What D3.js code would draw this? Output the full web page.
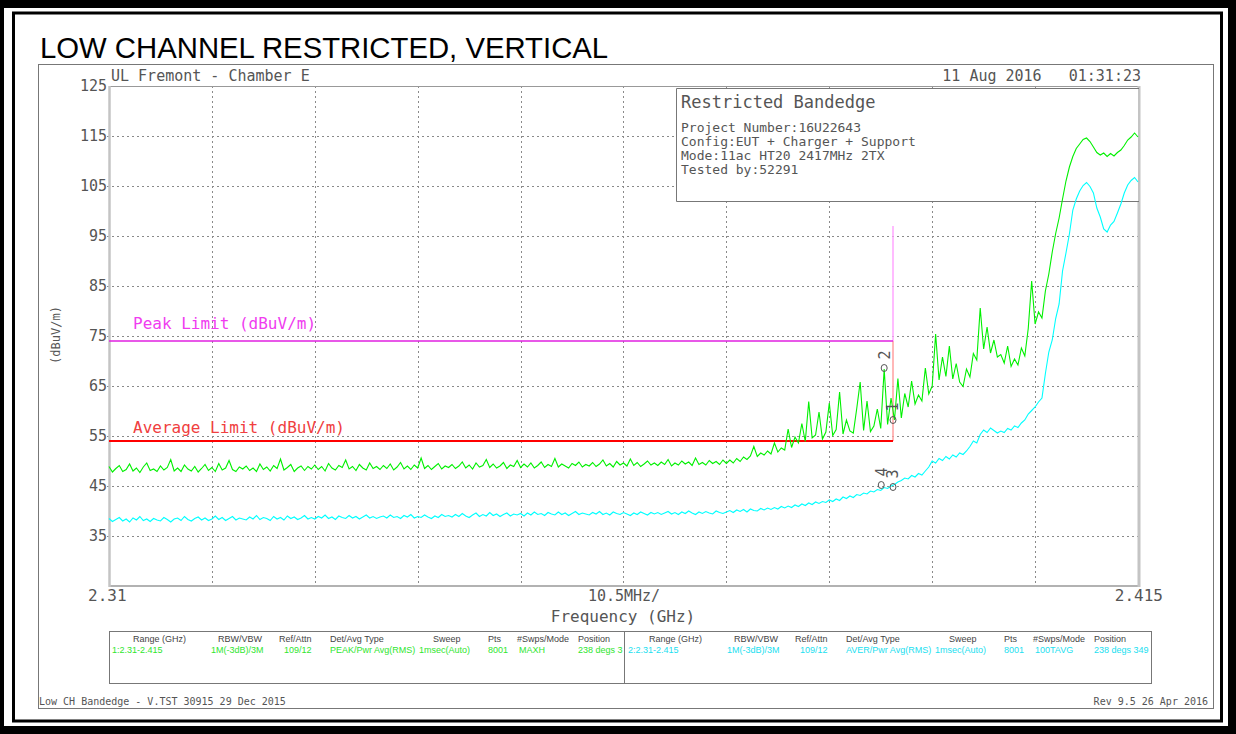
<!DOCTYPE html>
<html lang="en">
<head>
  <meta charset="UTF-8">
  <title>Low Channel Restricted, Vertical</title>
  <script src="https://d3js.org/d3.v7.min.js"></script>
  <style>
    body { margin: 0; background: white; }
    svg { display: block; }
    .mono { font-family: "DejaVu Sans Mono", monospace; fill: #555; }
    .small { font-family: "Liberation Sans", Arial, sans-serif; font-size: 9px; }
    .grid line { stroke: #8a8a8a; stroke-width: 1; stroke-dasharray: 2,3; }
  </style>
</head>
<body>
  <svg width="1236" height="734"></svg>

  <script>
    // sweep: 2.31 - 2.415 GHz, 301 read-off points per trace
    const sweepStart = 2.31;
    const sweepStop = 2.415;
    const yTicks = [35, 45, 55, 65, 75, 85, 95, 105, 115, 125];

    // trace 1, peak (MAXH), dBuV/m
    const peakTrace = [
      48.9, 47.8, 48.5, 49.1, 47.9, 48.3, 49.4, 48.0, 48.6, 47.7, 48.8, 49.6, 48.1, 48.4, 47.9, 49.0, 48.2, 48.7, 50.3, 48.0,
      48.6, 47.9, 49.2, 48.4, 48.0, 48.9, 47.8, 48.5, 49.3, 48.1, 48.7, 47.9, 49.5, 48.2, 48.6, 50.1, 48.3, 47.9, 48.8, 48.4,
      49.0, 48.1, 48.6, 47.9, 49.4, 48.3, 48.8, 48.0, 49.1, 48.5, 50.4, 48.2, 48.7, 49.3, 47.9, 48.6, 49.0, 48.1, 48.9, 48.4,
      49.2, 48.3, 48.9, 48.0, 49.5, 48.6, 48.2, 49.1, 48.7, 50.2, 48.4, 48.9, 48.1, 49.3, 48.6, 48.2, 49.6, 48.5, 48.9, 48.3,
      49.1, 48.5, 49.4, 48.2, 48.8, 49.7, 48.4, 49.0, 48.3, 49.2, 48.6, 50.6, 48.5, 49.1, 48.3, 48.9, 49.5, 48.4, 49.0, 48.7,
      49.3, 48.5, 49.0, 49.8, 48.6, 49.2, 48.4, 49.6, 48.8, 49.1, 50.3, 48.7, 49.4, 48.6, 49.0, 49.7, 48.5, 49.2, 48.9, 50.1,
      48.7, 49.4, 48.8, 49.6, 48.6, 49.1, 49.8, 48.7, 49.3, 48.9, 50.5, 48.8, 49.4, 49.0, 48.6, 49.5, 49.1, 49.8, 48.8, 49.3,
      49.0, 49.7, 48.9, 49.4, 50.2, 49.0, 49.5, 48.8, 49.9, 49.2, 49.6, 49.0, 50.4, 49.1, 49.7, 48.9, 49.4, 50.0, 49.2, 49.6,
      49.1, 49.8, 49.3, 50.3, 49.0, 49.6, 49.2, 50.0, 49.4, 49.8, 49.1, 50.6, 49.3, 49.7, 49.2, 50.1, 49.5, 49.9, 49.3, 50.2,
      49.5, 50.2, 49.6, 50.5, 49.9, 50.8, 50.3, 51.0, 52.9, 50.9, 51.6, 51.2, 52.0, 51.4, 53.6, 51.8, 52.6, 52.2, 56.4, 52.7,
      54.8, 53.6, 57.5, 53.9, 61.9, 54.6, 55.2, 59.8, 54.4, 55.8, 61.6, 55.1, 56.3, 63.8, 55.4, 58.2, 56.0, 55.6, 60.5, 65.8,
      56.1, 62.0, 55.9, 57.0, 60.4, 56.5, 68.4, 57.3, 62.6, 58.2, 66.5, 58.6, 63.5, 60.8, 66.0, 61.4, 63.2, 62.0, 68.6, 63.4,
      65.0, 75.4, 66.2, 70.8, 66.9, 73.0, 66.4, 69.5, 65.8, 64.9, 68.4, 66.8, 71.5, 70.2, 80.6, 72.4, 76.8, 71.6, 74.2, 70.8,
      71.3, 69.6, 73.0, 68.9, 70.4, 69.2, 72.6, 71.0, 76.5, 86.0, 77.4, 79.8, 78.6, 84.0, 87.4, 91.8, 95.5, 98.6, 102.4, 106.0,
      108.8, 110.9, 112.5, 113.4, 114.3, 114.6, 113.9, 112.8, 111.7, 111.2, 111.6, 110.9, 111.5, 111.0, 111.7, 112.2, 113.1, 114.2, 114.8, 115.6,
      114.8
    ];

    // trace 2, average (100TAVG), dBuV/m
    const avgTrace = [
      38.5, 37.9, 38.3, 38.7, 38.0, 38.4, 37.8, 38.6, 38.2, 38.9, 38.1, 38.4, 37.9, 38.5, 38.2, 38.0, 38.7, 38.3, 37.8, 38.4,
      38.6, 38.1, 38.9, 38.3, 38.0, 38.5, 38.8, 38.2, 38.6, 38.1, 38.4, 39.0, 38.3, 38.7, 38.1, 38.5, 38.9, 38.2, 38.6, 38.4,
      38.2, 38.8, 38.4, 39.1, 38.3, 38.7, 38.5, 38.1, 38.9, 38.4, 38.7, 38.2, 39.0, 38.5, 38.8, 38.3, 38.6, 39.1, 38.4, 38.7,
      38.4, 38.9, 38.6, 39.2, 38.5, 38.8, 38.3, 39.0, 38.7, 38.5, 39.1, 38.6, 38.9, 38.4, 38.8, 39.2, 38.6, 38.9, 38.5, 38.8,
      39.0, 38.6, 39.2, 38.7, 38.9, 38.5, 39.1, 38.8, 39.3, 38.6, 38.9, 38.7, 39.2, 38.8, 38.5, 39.0, 38.7, 39.3, 38.9, 39.1,
      38.8, 39.3, 38.9, 39.5, 39.0, 38.7, 39.2, 39.6, 38.9, 39.3, 39.0, 39.7, 39.1, 39.4, 38.9, 39.3, 39.6, 39.0, 39.4, 39.2,
      39.5, 39.0, 39.6, 39.2, 39.8, 39.3, 39.5, 39.1, 39.7, 39.4, 39.2, 39.8, 39.3, 39.6, 39.1, 39.5, 39.9, 39.3, 39.6, 39.4,
      39.2, 39.7, 39.4, 39.9, 39.3, 39.6, 39.2, 39.8, 39.5, 39.3, 39.7, 39.4, 39.1, 39.6, 39.3, 39.8, 39.5, 39.2, 39.7, 39.4,
      39.7, 39.3, 39.6, 39.9, 39.4, 39.7, 39.3, 39.8, 39.5, 40.0, 39.6, 39.3, 39.8, 39.5, 39.9, 39.6, 39.4, 40.0, 39.7, 39.5,
      39.8, 40.1, 39.7, 40.2, 39.9, 40.3, 39.8, 40.4, 40.1, 40.0, 40.5, 40.2, 40.6, 40.3, 40.7, 40.4, 40.9, 40.6, 41.0, 40.7,
      41.2, 40.9, 41.4, 41.1, 41.6, 41.3, 41.8, 41.5, 41.9, 41.7, 42.2, 41.9, 42.4, 42.1, 42.8, 42.5, 43.0, 42.7, 43.3, 43.1,
      43.6, 43.4, 44.0, 43.8, 44.3, 44.1, 44.7, 44.5, 45.0, 45.3, 45.8, 46.1, 46.6, 46.4, 47.1, 46.8, 47.5, 47.2, 48.0, 48.8,
      50.0, 49.6, 50.5, 50.1, 50.9, 50.4, 51.2, 50.8, 51.6, 51.3, 52.0, 52.9, 54.0, 53.6, 55.3, 56.2, 55.7, 56.6, 56.1, 55.6,
      56.0, 55.7, 56.5, 56.2, 57.0, 56.7, 57.6, 58.2, 59.4, 60.1, 60.8, 61.8, 62.6, 67.5, 71.8, 74.2, 78.5, 81.4, 88.0, 91.6,
      95.4, 100.2, 102.4, 104.0, 105.1, 105.7, 104.9, 103.6, 100.6, 98.8, 96.4, 95.8, 97.2, 97.9, 99.6, 101.4, 103.6, 105.2, 106.1, 106.7,
      105.8
    ];

    // limit lines (step at the 2.39 GHz band edge)
    const peakLimitFreq = [2.31, 2.39, 2.39];
    const peakLimitLevel = [74, 74, 97];
    const avgLimitFreq = [2.31, 2.39, 2.39];
    const avgLimitLevel = [54, 54, 74];

    // markers
    const markerIds = ["1", "2", "3", "4"];
    const markerFreq = [2.3900, 2.3891, 2.3900, 2.3888];
    const markerLevel = [58.2, 68.6, 44.8, 45.2];

    // bottom settings table
    const tableHeaders = ["Range (GHz)", "RBW/VBW", "Ref/Attn", "Det/Avg Type", "Sweep", "Pts", "#Swps/Mode", "Position"];
    const trace1Settings = ["1:2.31-2.415", "1M(-3dB)/3M", "109/12", "PEAK/Pwr Avg(RMS)", "1msec(Auto)", "8001", "MAXH", "238 degs 3"];
    const trace2Settings = ["2:2.31-2.415", "1M(-3dB)/3M", "109/12", "AVER/Pwr Avg(RMS)", "1msec(Auto)", "8001", "100TAVG", "238 degs 349"];

    const infoLines = ["Project Number:16U22643", "Config:EUT + Charger + Support", "Mode:11ac HT20 2417MHz 2TX", "Tested by:52291"];

    const svg = d3.select("svg");

    // outer black frame
    svg.append("rect").attr("width", 1236).attr("height", 734).attr("fill", "black");
    svg.append("rect").attr("x", 4).attr("y", 8).attr("width", 1224).attr("height", 718).attr("fill", "white");
    svg.append("rect").attr("x", 13.5).attr("y", 13).attr("width", 1208).attr("height", 708)
      .attr("fill", "none").attr("stroke", "black").attr("stroke-width", 3);

    svg.append("text")
      .attr("x", 40).attr("y", 58)
      .style("font-family", "'Liberation Sans', Arial, sans-serif")
      .style("font-size", "29.3px")
      .text("LOW CHANNEL RESTRICTED, VERTICAL");

    // analyzer plot frame
    svg.append("rect").attr("x", 38.5).attr("y", 64.5).attr("width", 1175).attr("height", 644)
      .attr("fill", "none").attr("stroke", "#777").attr("stroke-width", 1);

    const x = d3.scaleLinear().domain([sweepStart, sweepStop]).range([109, 1138]);
    const y = d3.scaleLinear().domain([25, 125]).range([586, 86]);

    const grid = svg.append("g").attr("class", "grid");
    grid.selectAll(".h").data(yTicks.filter(d => d < 125)).join("line")
      .attr("x1", 107).attr("x2", 1138)
      .attr("y1", d => y(d) + 0.5).attr("y2", d => y(d) + 0.5);
    const xTicks = d3.range(1, 10).map(i => sweepStart + i * (sweepStop - sweepStart) / 10);
    grid.selectAll(".v").data(xTicks).join("line")
      .attr("x1", d => Math.round(x(d)) + 0.5).attr("x2", d => Math.round(x(d)) + 0.5)
      .attr("y1", 86).attr("y2", 586);

    // plot borders
    svg.append("line").attr("x1", 109).attr("x2", 1139).attr("y1", 86.5).attr("y2", 86.5).attr("stroke", "#999");
    svg.append("line").attr("x1", 109).attr("x2", 1139).attr("y1", 586).attr("y2", 586).attr("stroke", "#999").attr("stroke-width", 1.5);
    svg.append("line").attr("x1", 109.5).attr("x2", 109.5).attr("y1", 86).attr("y2", 587).attr("stroke", "#c4c4c4").attr("stroke-width", 2.5);
    svg.append("line").attr("x1", 1139).attr("x2", 1139).attr("y1", 86).attr("y2", 587).attr("stroke", "#c4c4c4").attr("stroke-width", 3);

    // y tick labels
    svg.append("g").selectAll("text").data(yTicks).join("text")
      .attr("class", "mono")
      .attr("x", 107).attr("y", d => y(d))
      .attr("dy", "0.36em")
      .attr("text-anchor", "end")
      .style("font-size", "15px")
      .text(d => d);

    svg.append("text").attr("class", "mono")
      .attr("transform", "translate(60,335) rotate(-90)")
      .attr("text-anchor", "middle")
      .style("font-size", "12px")
      .text("(dBuV/m)");

    // x labels
    svg.append("text").attr("class", "mono").attr("x", 88).attr("y", 601)
      .style("font-size", "16px").text(sweepStart.toFixed(2));
    svg.append("text").attr("class", "mono").attr("x", 1163).attr("y", 601)
      .attr("text-anchor", "end").style("font-size", "16px").text(sweepStop.toFixed(3));
    svg.append("text").attr("class", "mono").attr("x", 624).attr("y", 601)
      .attr("text-anchor", "middle").style("font-size", "15px")
      .text(((sweepStop - sweepStart) * 100).toFixed(1) + "MHz/");
    svg.append("text").attr("class", "mono").attr("x", 623).attr("y", 622)
      .attr("text-anchor", "middle").style("font-size", "16px").text("Frequency (GHz)");

    // header
    svg.append("text").attr("class", "mono").attr("x", 111).attr("y", 81)
      .style("font-size", "15px").text("UL Fremont - Chamber E");
    svg.append("text").attr("class", "mono").attr("x", 1141).attr("y", 81)
      .attr("text-anchor", "end").style("font-size", "15px")
      .style("white-space", "pre").attr("xml:space", "preserve")
      .text("11 Aug 2016   01:31:23");

    // limits
    const limitLine = d3.line().x(d => x(d[0])).y(d => y(d[1]));
    const peakLim = d3.zip(peakLimitFreq, peakLimitLevel);
    const avgLim = d3.zip(avgLimitFreq, avgLimitLevel);
    svg.append("path").attr("d", limitLine(peakLim.slice(1)))
      .attr("fill", "none").attr("stroke", "#ffa6ff").attr("stroke-width", 1.5);
    svg.append("path").attr("d", limitLine(avgLim.slice(1)))
      .attr("fill", "none").attr("stroke", "#ff9f9f").attr("stroke-width", 1.5);
    svg.append("path").attr("d", limitLine(peakLim.slice(0, 2)))
      .attr("fill", "none").attr("stroke", "#e020e0").attr("stroke-width", 1.6);
    svg.append("path").attr("d", limitLine(avgLim.slice(0, 2)))
      .attr("fill", "none").attr("stroke", "#ff0000").attr("stroke-width", 2.2);

    svg.append("text").attr("x", 133).attr("y", 329)
      .style("font-family", "'DejaVu Sans Mono', monospace").style("font-size", "16px")
      .attr("fill", "#f03cf0").text("Peak Limit (dBuV/m)");
    svg.append("text").attr("x", 133).attr("y", 433)
      .style("font-family", "'DejaVu Sans Mono', monospace").style("font-size", "16px")
      .attr("fill", "#f04040").text("Average Limit (dBuV/m)");

    // info box (hides the grid, traces are drawn over it)
    svg.append("rect").attr("x", 677).attr("y", 89).attr("width", 461).attr("height", 112).attr("fill", "white");
    svg.append("path").attr("d", "M1139,88.5H676.5V201.5H1139")
      .attr("fill", "none").attr("stroke", "#777").attr("stroke-width", 1);
    svg.append("text").attr("class", "mono").attr("x", 681).attr("y", 108)
      .style("font-size", "17px").text("Restricted Bandedge");
    svg.append("g").selectAll("text").data(infoLines).join("text")
      .attr("class", "mono")
      .attr("x", 681).attr("y", (d, i) => 132 + i * 14)
      .style("font-size", "13px")
      .text(d => d);

    // traces
    const n = peakTrace.length;
    const freqAt = i => sweepStart + i * (sweepStop - sweepStart) / (n - 1);
    const traceLine = d3.line().x((d, i) => x(freqAt(i))).y(d => y(d));

    svg.append("path").attr("d", traceLine(avgTrace))
      .attr("fill", "none").attr("stroke", "#00ffff").attr("stroke-width", 1.1);
    svg.append("path").attr("d", traceLine(peakTrace))
      .attr("fill", "none").attr("stroke", "#00f000").attr("stroke-width", 1.1);

    // markers
    const mk = svg.append("g").selectAll("g").data(markerIds).join("g")
      .attr("transform", (d, i) => `translate(${x(markerFreq[i])},${y(markerLevel[i])})`);
    mk.append("ellipse").attr("rx", 3).attr("ry", 3.5)
      .attr("fill", "none").attr("stroke", "#555").attr("stroke-width", 1);
    mk.append("text").attr("class", "mono")
      .attr("transform", "translate(0,-13) rotate(-90)")
      .attr("text-anchor", "middle").attr("dy", "0.36em")
      .style("font-size", "15px")
      .text(d => d);

    // settings table
    svg.append("rect").attr("x", 109.5).attr("y", 631.5).attr("width", 1042).attr("height", 52)
      .attr("fill", "none").attr("stroke", "#777");
    svg.append("line").attr("x1", 624.5).attr("x2", 624.5).attr("y1", 631).attr("y2", 684).attr("stroke", "#777");

    const headX = [133, 218, 279, 330, 433, 488, 517, 578];
    const valX = [112, 211, 284, 330, 419, 488, 519, 578];
    [[trace1Settings, 0, "#2ee62e"], [trace2Settings, 516, "#20e0f0"]].forEach(([vals, off, col]) => {
      svg.append("g").selectAll("text").data(tableHeaders).join("text")
        .attr("class", "small").attr("fill", "#444")
        .attr("x", (d, i) => headX[i] + off).attr("y", 642)
        .text(d => d);
      svg.append("g").selectAll("text").data(vals).join("text")
        .attr("class", "small").attr("fill", col)
        .attr("x", (d, i) => valX[i] + off).attr("y", 653)
        .text(d => d);
    });

    // footer
    svg.append("text").attr("class", "mono").attr("x", 39).attr("y", 705)
      .style("font-size", "10px").attr("fill", "#333").text("Low CH Bandedge - V.TST 30915 29 Dec 2015");
    svg.append("text").attr("class", "mono").attr("x", 1208).attr("y", 705)
      .attr("text-anchor", "end").style("font-size", "10px").text("Rev 9.5 26 Apr 2016");
  </script>
</body>
</html>
